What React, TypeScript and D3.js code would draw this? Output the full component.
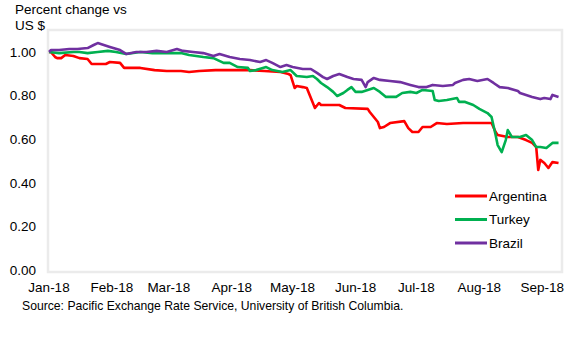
import React from "react";
import * as d3 from "d3";

const argentinaDates = ["2018-01-01","2018-01-02","2018-01-04","2018-01-05","2018-01-07","2018-01-09","2018-01-13","2018-01-16","2018-01-20","2018-01-22","2018-01-29","2018-01-31","2018-02-05","2018-02-07","2018-02-15","2018-02-22","2018-02-28","2018-03-07","2018-03-11","2018-03-16","2018-03-24","2018-03-31","2018-04-10","2018-04-17","2018-04-25","2018-04-29","2018-04-30","2018-05-02","2018-05-03","2018-05-06","2018-05-08","2018-05-12","2018-05-14","2018-05-15","2018-05-24","2018-05-27","2018-06-07","2018-06-08","2018-06-12","2018-06-13","2018-06-15","2018-06-18","2018-06-25","2018-06-27","2018-06-29","2018-07-02","2018-07-04","2018-07-08","2018-07-11","2018-07-16","2018-07-24","2018-07-31","2018-08-07","2018-08-09","2018-08-10","2018-08-15","2018-08-20","2018-08-24","2018-08-27","2018-08-29","2018-08-30","2018-08-31","2018-09-02","2018-09-04","2018-09-06","2018-09-09"];
const argentinaValues = [1.0,0.999,0.977,0.972,0.972,0.986,0.982,0.972,0.968,0.945,0.945,0.954,0.95,0.927,0.927,0.917,0.913,0.913,0.908,0.913,0.917,0.917,0.917,0.913,0.908,0.899,0.894,0.835,0.844,0.839,0.835,0.743,0.766,0.757,0.757,0.743,0.739,0.725,0.679,0.651,0.656,0.674,0.683,0.651,0.633,0.633,0.656,0.656,0.674,0.67,0.674,0.674,0.674,0.633,0.619,0.61,0.61,0.596,0.583,0.564,0.459,0.505,0.491,0.468,0.495,0.491];

const turkeyDates = ["2018-01-01","2018-01-06","2018-01-13","2018-01-16","2018-01-20","2018-01-25","2018-01-30","2018-02-03","2018-02-08","2018-02-15","2018-02-21","2018-02-28","2018-03-07","2018-03-11","2018-03-18","2018-03-23","2018-03-28","2018-03-31","2018-04-04","2018-04-09","2018-04-10","2018-04-13","2018-04-18","2018-04-21","2018-04-26","2018-04-30","2018-05-03","2018-05-08","2018-05-11","2018-05-13","2018-05-15","2018-05-18","2018-05-21","2018-05-23","2018-05-26","2018-05-28","2018-05-30","2018-06-01","2018-06-04","2018-06-07","2018-06-10","2018-06-13","2018-06-16","2018-06-21","2018-06-24","2018-06-28","2018-07-01","2018-07-04","2018-07-09","2018-07-10","2018-07-12","2018-07-16","2018-07-21","2018-07-22","2018-07-25","2018-07-29","2018-08-01","2018-08-05","2018-08-07","2018-08-09","2018-08-10","2018-08-12","2018-08-14","2018-08-15","2018-08-17","2018-08-21","2018-08-24","2018-08-27","2018-08-29","2018-08-31","2018-09-03","2018-09-06","2018-09-09"];
const turkeyValues = [1.0,0.995,1.0,1.0,0.995,1.0,1.005,1.0,0.991,1.0,0.995,0.995,0.995,0.986,0.977,0.972,0.95,0.95,0.931,0.927,0.913,0.917,0.931,0.917,0.908,0.917,0.89,0.885,0.89,0.876,0.858,0.839,0.817,0.798,0.812,0.826,0.839,0.817,0.817,0.826,0.835,0.817,0.794,0.794,0.812,0.817,0.812,0.826,0.821,0.78,0.775,0.78,0.789,0.771,0.771,0.757,0.739,0.72,0.702,0.619,0.573,0.541,0.596,0.642,0.61,0.61,0.619,0.596,0.564,0.564,0.56,0.583,0.583];

const brazilDates = ["2018-01-01","2018-01-02","2018-01-06","2018-01-11","2018-01-15","2018-01-20","2018-01-23","2018-01-25","2018-01-28","2018-01-31","2018-02-05","2018-02-08","2018-02-13","2018-02-18","2018-02-23","2018-02-28","2018-03-05","2018-03-08","2018-03-13","2018-03-18","2018-03-23","2018-03-26","2018-03-31","2018-04-05","2018-04-10","2018-04-15","2018-04-18","2018-04-21","2018-04-25","2018-04-28","2018-05-01","2018-05-06","2018-05-10","2018-05-13","2018-05-16","2018-05-18","2018-05-21","2018-05-24","2018-05-28","2018-05-31","2018-06-04","2018-06-06","2018-06-07","2018-06-10","2018-06-13","2018-06-18","2018-06-23","2018-06-28","2018-07-02","2018-07-06","2018-07-09","2018-07-14","2018-07-19","2018-07-20","2018-07-24","2018-07-27","2018-07-31","2018-08-05","2018-08-08","2018-08-11","2018-08-15","2018-08-20","2018-08-21","2018-08-24","2018-08-27","2018-08-31","2018-09-02","2018-09-05","2018-09-06","2018-09-09"];
const brazilValues = [1.0,1.009,1.009,1.014,1.014,1.018,1.032,1.041,1.032,1.023,1.009,0.991,1.0,1.0,1.005,1.0,1.014,1.005,1.0,0.995,0.982,0.991,0.977,0.968,0.963,0.954,0.963,0.95,0.931,0.94,0.931,0.922,0.922,0.904,0.885,0.876,0.89,0.899,0.885,0.876,0.872,0.839,0.862,0.881,0.872,0.867,0.862,0.849,0.839,0.839,0.849,0.844,0.849,0.858,0.872,0.876,0.867,0.876,0.858,0.839,0.835,0.821,0.812,0.803,0.794,0.784,0.789,0.784,0.803,0.794];

const seriesNames = ["Argentina", "Turkey", "Brazil"];
const seriesColors = ["#ff0000", "#00b050", "#7030a0"];
const yTicks = [0, 0.2, 0.4, 0.6, 0.8, 1.0];
const xDomain = ["2018-01-01", "2018-09-11"];

const parse = d3.timeParse("%Y-%m-%d");

export default function App() {
  const W = 579, H = 339;
  const x = d3.scaleTime()
    .domain([parse(xDomain[0])!, parse(xDomain[1])!])
    .range([49, 562.6]);
  const y = d3.scaleLinear().domain([0, 1.1]).range([270, 30.2]);

  const series = [
    { name: seriesNames[0], color: seriesColors[0], dates: argentinaDates, values: argentinaValues },
    { name: seriesNames[1], color: seriesColors[1], dates: turkeyDates, values: turkeyValues },
    { name: seriesNames[2], color: seriesColors[2], dates: brazilDates, values: brazilValues },
  ];

  const line = d3.line<[Date, number]>()
    .x((d) => x(d[0]))
    .y((d) => y(d[1]));

  const monthTicks = d3.timeMonth.range(parse("2018-01-01")!, parse("2018-09-02")!);
  const fmtX = d3.timeFormat("%b-%y");
  const fmtY = d3.format(".2f");
  const font = "'Liberation Sans', Arial, sans-serif";

  return (
    <svg width={W} height={H} style={{ position: "absolute", left: 0, top: 0, background: "#fff" }} fontFamily={font}>
      <rect x={48} y={30} width={514} height={242} fill="none" stroke="#ebebeb" strokeWidth={2.5} />
      <text x={15} y={13.5} fontSize={13.5} fill="#000">Percent change vs</text>
      <text x={15} y={29.5} fontSize={13.5} fill="#000">US $</text>
      {yTicks.map((t) => (
        <text key={t} x={36} y={y(t)} dy="0.36em" textAnchor="end" fontSize={13.5} fill="#000">{fmtY(t)}</text>
      ))}
      {monthTicks.map((m) => (
        <text key={+m} x={x(m)} y={292} textAnchor="middle" fontSize={13.5} fill="#000">{fmtX(m)}</text>
      ))}
      {series.map((s) => {
        const pts: [Date, number][] = s.dates.map((d, i) => [parse(d)!, s.values[i]]);
        return (
          <path key={s.name} d={line(pts) || ""} fill="none" stroke={s.color} strokeWidth={2.6} strokeLinejoin="round" />
        );
      })}
      {series.map((s, i) => {
        const ly = 196 + i * 23.5;
        return (
          <g key={s.name}>
            <line x1={455} x2={487} y1={ly} y2={ly} stroke={s.color} strokeWidth={3} />
            <text x={489} y={ly} dy="0.36em" fontSize={13.5} fill="#000">{s.name}</text>
          </g>
        );
      })}
      <text x={22} y={310} fontSize={12.2} fill="#000">Source: Pacific Exchange Rate Service, University of British Columbia.</text>
    </svg>
  );
}
